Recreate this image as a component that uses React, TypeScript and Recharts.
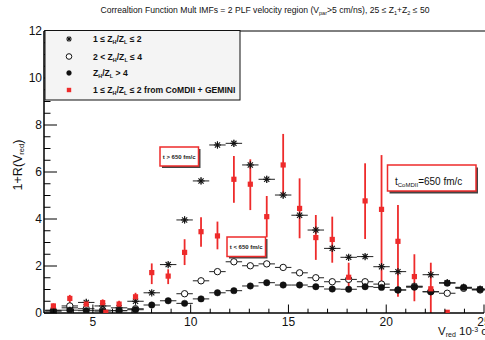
import React from 'react';
import { ScatterChart, Scatter, XAxis, YAxis, ErrorBar } from 'recharts';

const FONT = '"Liberation Sans", Arial, Helvetica, sans-serif';
const RED = '#ee2b2b';

// Axis ticks
const X_TICKS = [3, 4, 5, 6, 7, 8, 9, 10, 11, 12, 13, 14, 15, 16, 17, 18, 19, 20, 21, 22, 23, 24, 25];
const X_LABELED = [5, 10, 15, 20, 25];
const Y_TICKS = [0, 0.5, 1, 1.5, 2, 2.5, 3, 3.5, 4, 4.5, 5, 5.5, 6, 6.5, 7, 7.5, 8, 8.5, 9, 9.5, 10, 10.5, 11, 11.5, 12];
const Y_LABELED = [0, 2, 4, 6, 8, 10, 12];

// Bins (V_red, 10^-3 c)
const binCenters = [2.98, 3.82, 4.66, 5.5, 6.34, 7.18, 8.01, 8.85, 9.69, 10.53, 11.37, 12.21, 13.05, 13.89, 14.73, 15.57, 16.4, 17.24, 18.08, 18.92, 19.76, 20.6, 21.44, 22.28, 23.12, 23.96, 24.8];
const binHalfWidth = 0.42;

// 1 <= ZH/ZL <= 2
const starVals = [0.12, 0.22, 0.45, 0.3, 0.22, 0.5, 0.86, 2.06, 3.96, 5.62, 7.15, 7.22, 6.3, 5.69, 5.02, 4.16, 3.53, 2.75, 2.37, 2.4, 1.97, 1.76, 1.14, 1.63, 1.29, 1.09, 1.02];
const starErr = [0.08, 0.1, 0.15, 0.12, 0.1, 0.12, 0.1, 0.12, 0.15, 0.15, 0.15, 0.15, 0.17, 0.15, 0.15, 0.17, 0.15, 0.14, 0.12, 0.12, 0.12, 0.12, 0.1, 0.12, 0.1, 0.1, 0.1];

// 2 < ZH/ZL <= 4
const openVals = [0.08, 0.3, 0.18, 0.12, 0.1, 0.18, null, null, 0.82, 1.37, 1.76, 2.18, 2.01, 2.09, 1.94, 1.71, 1.5, 1.33, 1.43, 1.33, 1.23, 0.98, 1.12, 0.91, 0.84, 1.05, 0.98];

// ZH/ZL > 4
const filledVals = [0.1, 0.12, 0.1, 0.08, 0.1, 0.14, 0.34, 0.52, 0.41, 0.6, 0.86, 0.95, 1.15, 1.29, 1.19, 1.19, 1.12, 1.02, 1.01, 1.12, 1.09, 0.98, 1.1, 0.9, 1.27, 1.09, 1.0];

// 1 <= ZH/ZL <= 2 from CoMDII + GEMINI
const redX = [2.98, 3.82, 4.66, 5.5, 5.66, 6.34, 7.18, 8.01, 8.85, 9.69, 10.53, 11.37, 12.21, 13.05, 13.89, 14.73, 15.57, 16.4, 17.24, 18.08, 18.92, 19.76, 20.6, 21.44, 22.28, 23.12];
const redY = [0.3, 0.62, 0.38, 0.44, 0.03, 0.38, 0.69, 1.72, 1.57, 2.58, 3.46, 3.28, 5.69, 5.48, 4.1, 6.3, 4.45, 3.21, 3.13, 1.52, 4.77, 4.41, 3.05, 1.55, 1.03, 0.03];
const redLo = [0.22, 0.38, 0.28, 0.3, 0.03, 0.28, 0.45, 1.23, 1.23, 2.04, 2.82, 2.71, 4.69, 4.38, 3.22, 5.02, 3.18, 2.26, 2.14, 0.91, 3.15, 1.05, 0.69, 0.5, 0.0, 0.03];
const redHi = [0.41, 0.77, 0.52, 0.58, 0.03, 0.52, 0.86, 2.11, 1.86, 3.14, 4.07, 3.89, 6.68, 6.54, 4.98, 7.62, 5.73, 4.17, 4.1, 2.14, 6.37, 6.72, 4.6, 2.5, 2.14, 0.03];

const starData = binCenters.map((x, i) => ({ x, y: starVals[i], ex: binHalfWidth, ey: starErr[i] }));
const openData = binCenters
  .map((x, i) => ({ x, y: openVals[i], ex: binHalfWidth }))
  .filter((d) => d.y !== null);
const filledData = binCenters.map((x, i) => ({ x, y: filledVals[i], ex: binHalfWidth }));
const redData = redX.map((x, i) => ({ x, y: redY[i], ey: [redY[i] - redLo[i], redHi[i] - redY[i]] }));

// Layout
const W = 485;
const H = 340;
const PLOT_TOP = 31;
const X_AXIS_H = 27;
const Y_AXIS_W = 44;
const PLOT_BOTTOM = H - X_AXIS_H;
const PLOT_LEFT = Y_AXIS_W;

const StarMarker = ({ cx, cy, r = 3.6 }: any) => {
  const d = r * 0.72;
  return (
    <g stroke="#111" strokeWidth={1.1}>
      <line x1={cx - r} y1={cy} x2={cx + r} y2={cy} />
      <line x1={cx} y1={cy - r} x2={cx} y2={cy + r} />
      <line x1={cx - d} y1={cy - d} x2={cx + d} y2={cy + d} />
      <line x1={cx - d} y1={cy + d} x2={cx + d} y2={cy - d} />
    </g>
  );
};
const OpenMarker = ({ cx, cy, r = 3.2 }: any) => <circle cx={cx} cy={cy} r={r} fill="#fff" stroke="#111" strokeWidth={1} />;
const FilledMarker = ({ cx, cy, r = 3.2 }: any) => <circle cx={cx} cy={cy} r={r} fill="#111" stroke="#111" strokeWidth={0.5} />;
const RedMarker = ({ cx, cy, s = 5.2 }: any) => <rect x={cx - s / 2} y={cy - s / 2} width={s} height={s} fill={RED} />;

const XTick = (props: any) => {
  const { x, payload } = props;
  const v = payload.value;
  const major = X_LABELED.includes(v);
  return (
    <g>
      <line x1={x} x2={x} y1={PLOT_BOTTOM} y2={PLOT_BOTTOM - (major ? 8.5 : 4.3)} stroke="#000" strokeWidth={1} />
      {major && (
        <text x={x} y={PLOT_BOTTOM + 12.5} textAnchor="middle" fontSize={12} fontFamily={FONT} fill="#111">
          {v}
        </text>
      )}
    </g>
  );
};

const YTick = (props: any) => {
  const { y, payload } = props;
  const v = payload.value;
  const major = Y_LABELED.includes(v);
  return (
    <g>
      <line x1={PLOT_LEFT} x2={PLOT_LEFT + (major ? 13 : 6.5)} y1={y} y2={y} stroke="#000" strokeWidth={1} />
      {major && (
        <text x={PLOT_LEFT - 2} y={y + 4.3} textAnchor="end" fontSize={12} fontFamily={FONT} fill="#111">
          {v}
        </text>
      )}
    </g>
  );
};

const Sub = ({ children, size }: any) => (
  <tspan baselineShift="-30%" fontSize={size}>{children}</tspan>
);

const Overlay = () => (
  <svg width={W} height={H} style={{ position: 'absolute', left: 0, top: 0, pointerEvents: 'none' }} fontFamily={FONT}>
    {/* title */}
    <text x={265} y={13} textAnchor="middle" fontSize={8.6} fill="#111">
      Correaltion Function Mult IMFs = 2 PLF velocity region (V<Sub size={5.5}>par</Sub>&gt;5 cm/ns), 25 ≤ Z<Sub size={5.5}>1</Sub>+Z<Sub size={5.5}>2</Sub> ≤ 50
    </text>
    {/* frame top */}
    <line x1={PLOT_LEFT} x2={W} y1={PLOT_TOP} y2={PLOT_TOP} stroke="#000" strokeWidth={1} />
    {/* legend */}
    <rect x={45} y={30.5} width={195} height={69.5} fill="#f4f4f4" stroke="#111" strokeWidth={1} />
    <StarMarker cx={69} cy={39} r={2.8} />
    <OpenMarker cx={69} cy={56.5} r={2.8} />
    <FilledMarker cx={69} cy={73} r={2.4} />
    <RedMarker cx={69} cy={90} s={4.4} />
    <g fontSize={8.6} fontWeight="bold" fill="#111">
      <text x={93} y={42}>1 ≤ Z<Sub size={5.4}>H</Sub>/Z<Sub size={5.4}>L</Sub> ≤ 2</text>
      <text x={93} y={59.5}>2 &lt; Z<Sub size={5.4}>H</Sub>/Z<Sub size={5.4}>L</Sub> ≤ 4</text>
      <text x={93} y={76}>Z<Sub size={5.4}>H</Sub>/Z<Sub size={5.4}>L</Sub> &gt; 4</text>
      <text x={93} y={93}>1 ≤ Z<Sub size={5.4}>H</Sub>/Z<Sub size={5.4}>L</Sub> ≤ 2 from CoMDII + GEMINI</text>
    </g>
    {/* annotation boxes */}
    <rect x={162} y={149} width={38.5} height={19} fill="#444" />
    <rect x={160} y={147} width={38.5} height={19} fill="#fff" stroke={RED} strokeWidth={1.5} />
    <text x={179.2} y={158.8} textAnchor="middle" fontSize={6} fontWeight="bold" fill="#222">t &gt; 650 fm/c</text>

    <rect x={229} y={239} width={38.5} height={19.5} fill="#444" />
    <rect x={227} y={237} width={38.5} height={19.5} fill="#fff" stroke={RED} strokeWidth={1.5} />
    <text x={246.2} y={249} textAnchor="middle" fontSize={6} fontWeight="bold" fill="#222">t &lt; 650 fm/c</text>

    <rect x={389.5} y={167.5} width={88.5} height={26} fill="#444" />
    <rect x={387.5} y={165} width={88.5} height={26} fill="#fff" stroke={RED} strokeWidth={1.5} />
    <text x={395} y={185} fontSize={10} fill="#111">t<Sub size={6}>CoMDII</Sub>=650 fm/c</text>

    {/* axis titles */}
    <text transform="translate(22,165) rotate(-90)" textAnchor="middle" fontSize={12.5} fill="#111">
      1+R(V<Sub size={7.5}>red</Sub>)
    </text>
    <text x={438} y={335} fontSize={11.5} fill="#111">
      V<Sub size={7}>red</Sub> 10<tspan baselineShift="45%" fontSize={7}>-3</tspan> c
    </text>
  </svg>
);

export default function App() {
  return (
    <div style={{ position: 'absolute', left: 0, top: 0, width: W, height: H, background: '#fff' }}>
      <ScatterChart width={W} height={H} margin={{ top: PLOT_TOP, right: 1, bottom: 0, left: 0 }}>
        <XAxis
          type="number"
          dataKey="x"
          domain={[2.5, 25]}
          ticks={X_TICKS}
          interval={0}
          height={X_AXIS_H}
          allowDataOverflow
          axisLine={{ stroke: '#000', strokeWidth: 1.5 }}
          tickLine={false}
          tick={(p: any) => <XTick {...p} />}
        />
        <YAxis
          type="number"
          dataKey="y"
          domain={[0, 12]}
          ticks={Y_TICKS}
          interval={0}
          width={Y_AXIS_W}
          allowDataOverflow
          axisLine={{ stroke: '#000', strokeWidth: 1.5 }}
          tickLine={false}
          tick={(p: any) => <YTick {...p} />}
        />
        <Scatter data={starData} isAnimationActive={false} shape={(p: any) => <StarMarker cx={p.cx} cy={p.cy} />}>
          <ErrorBar dataKey="ex" direction="x" width={0} stroke="#222" strokeWidth={1} isAnimationActive={false} />
          <ErrorBar dataKey="ey" direction="y" width={0} stroke="#555" strokeWidth={1} isAnimationActive={false} />
        </Scatter>
        <Scatter data={openData} isAnimationActive={false} shape={(p: any) => <OpenMarker cx={p.cx} cy={p.cy} />}>
          <ErrorBar dataKey="ex" direction="x" width={0} stroke="#222" strokeWidth={1} isAnimationActive={false} />
        </Scatter>
        <Scatter data={filledData} isAnimationActive={false} shape={(p: any) => <FilledMarker cx={p.cx} cy={p.cy} />}>
          <ErrorBar dataKey="ex" direction="x" width={0} stroke="#222" strokeWidth={1} isAnimationActive={false} />
        </Scatter>
        <Scatter data={redData} isAnimationActive={false} shape={(p: any) => <RedMarker cx={p.cx} cy={p.cy} />}>
          <ErrorBar dataKey="ey" direction="y" width={0} stroke={RED} strokeWidth={1.8} isAnimationActive={false} />
        </Scatter>
      </ScatterChart>
      <Overlay />
    </div>
  );
}
